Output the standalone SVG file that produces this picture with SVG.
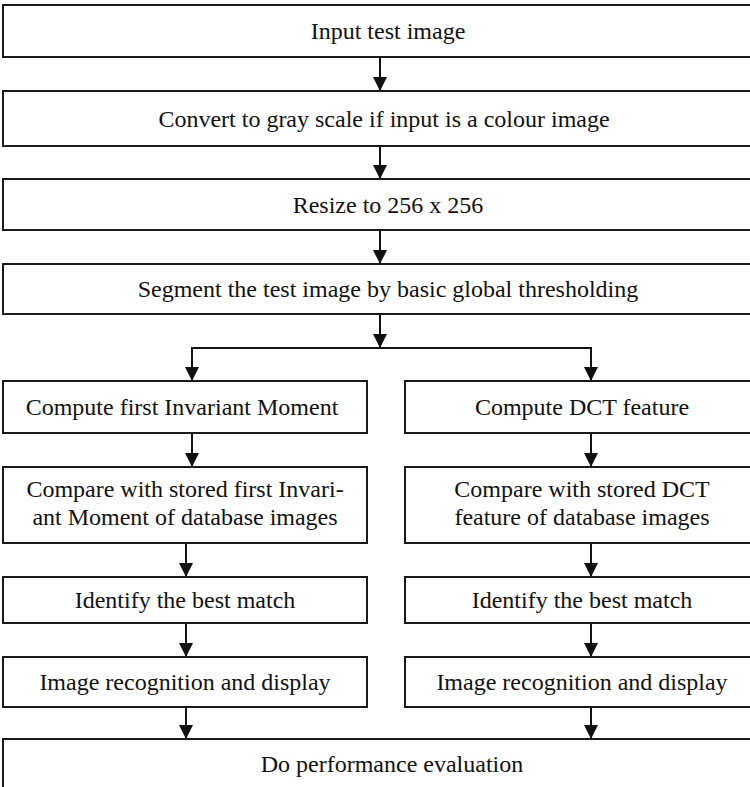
<svg xmlns="http://www.w3.org/2000/svg" width="750" height="787" viewBox="0 0 750 787">
<defs>
<style>
.box{fill:#fff;stroke:#1a1a1a;stroke-width:2}
.t{font-size:24px;fill:#111;text-anchor:middle}
.c{stroke:#111;stroke-width:2;fill:none}
</style>
<marker id="ah" markerUnits="userSpaceOnUse" markerWidth="14" markerHeight="14" refX="14" refY="7" orient="auto">
<path d="M0,0 L14,7 L0,14 z" fill="#111"/>
</marker>
</defs>
<rect width="750" height="787" fill="#fff"/>
<g id="connectors">
<line class="c" x1="380" y1="57" x2="380" y2="91" marker-end="url(#ah)"/>
<line class="c" x1="380" y1="146" x2="380" y2="179" marker-end="url(#ah)"/>
<line class="c" x1="380" y1="230" x2="380" y2="264" marker-end="url(#ah)"/>
<polyline class="c" points="380,314 380,348" marker-end="url(#ah)"/>
<polyline class="c" points="192,348 591,348"/>
<line class="c" x1="192" y1="347" x2="192" y2="381" marker-end="url(#ah)"/>
<line class="c" x1="591" y1="347" x2="591" y2="381" marker-end="url(#ah)"/>
<line class="c" x1="192" y1="433" x2="192" y2="467" marker-end="url(#ah)"/>
<line class="c" x1="591" y1="433" x2="591" y2="467" marker-end="url(#ah)"/>
<line class="c" x1="186" y1="543" x2="186" y2="577" marker-end="url(#ah)"/>
<line class="c" x1="591" y1="543" x2="591" y2="577" marker-end="url(#ah)"/>
<line class="c" x1="186" y1="623" x2="186" y2="657" marker-end="url(#ah)"/>
<line class="c" x1="591" y1="623" x2="591" y2="657" marker-end="url(#ah)"/>
<line class="c" x1="186" y1="707" x2="186" y2="739" marker-end="url(#ah)"/>
<line class="c" x1="591" y1="707" x2="591" y2="739" marker-end="url(#ah)"/>
</g>
<g font-family="Liberation Serif">
<g id="n1"><rect class="box" x="3" y="5" width="770" height="52"/><text class="t" x="388" y="39">Input test image</text></g>
<g id="n2"><rect class="box" x="3" y="91" width="770" height="55"/><text class="t" x="384" y="127">Convert to gray scale if input is a colour image</text></g>
<g id="n3"><rect class="box" x="3" y="179" width="770" height="51"/><text class="t" x="388" y="213">Resize to 256 x 256</text></g>
<g id="n4"><rect class="box" x="3" y="264" width="770" height="50"/><text class="t" x="388" y="297">Segment the test image by basic global thresholding</text></g>
<g id="l1"><rect class="box" x="3" y="381" width="364" height="52"/><text class="t" x="182" y="415">Compute first Invariant Moment</text></g>
<g id="r1"><rect class="box" x="405" y="381" width="360" height="52"/><text class="t" x="582" y="415">Compute DCT feature</text></g>
<g id="l2"><rect class="box" x="3" y="467" width="364" height="76"/><text class="t" x="185" y="497">Compare with stored first Invari-</text><text class="t" x="185" y="525">ant Moment of database images</text></g>
<g id="r2"><rect class="box" x="405" y="467" width="360" height="76"/><text class="t" x="582" y="497">Compare with stored DCT</text><text class="t" x="582" y="525">feature of database images</text></g>
<g id="l3"><rect class="box" x="3" y="577" width="364" height="46"/><text class="t" x="185" y="608">Identify the best match</text></g>
<g id="r3"><rect class="box" x="405" y="577" width="360" height="46"/><text class="t" x="582" y="608">Identify the best match</text></g>
<g id="l4"><rect class="box" x="3" y="657" width="364" height="50"/><text class="t" x="185" y="690">Image recognition and display</text></g>
<g id="r4"><rect class="box" x="405" y="657" width="360" height="50"/><text class="t" x="582" y="690">Image recognition and display</text></g>
<g id="n5"><rect class="box" x="3" y="739" width="770" height="70"/><text class="t" x="392" y="772">Do performance evaluation</text></g>
</g>
</svg>
